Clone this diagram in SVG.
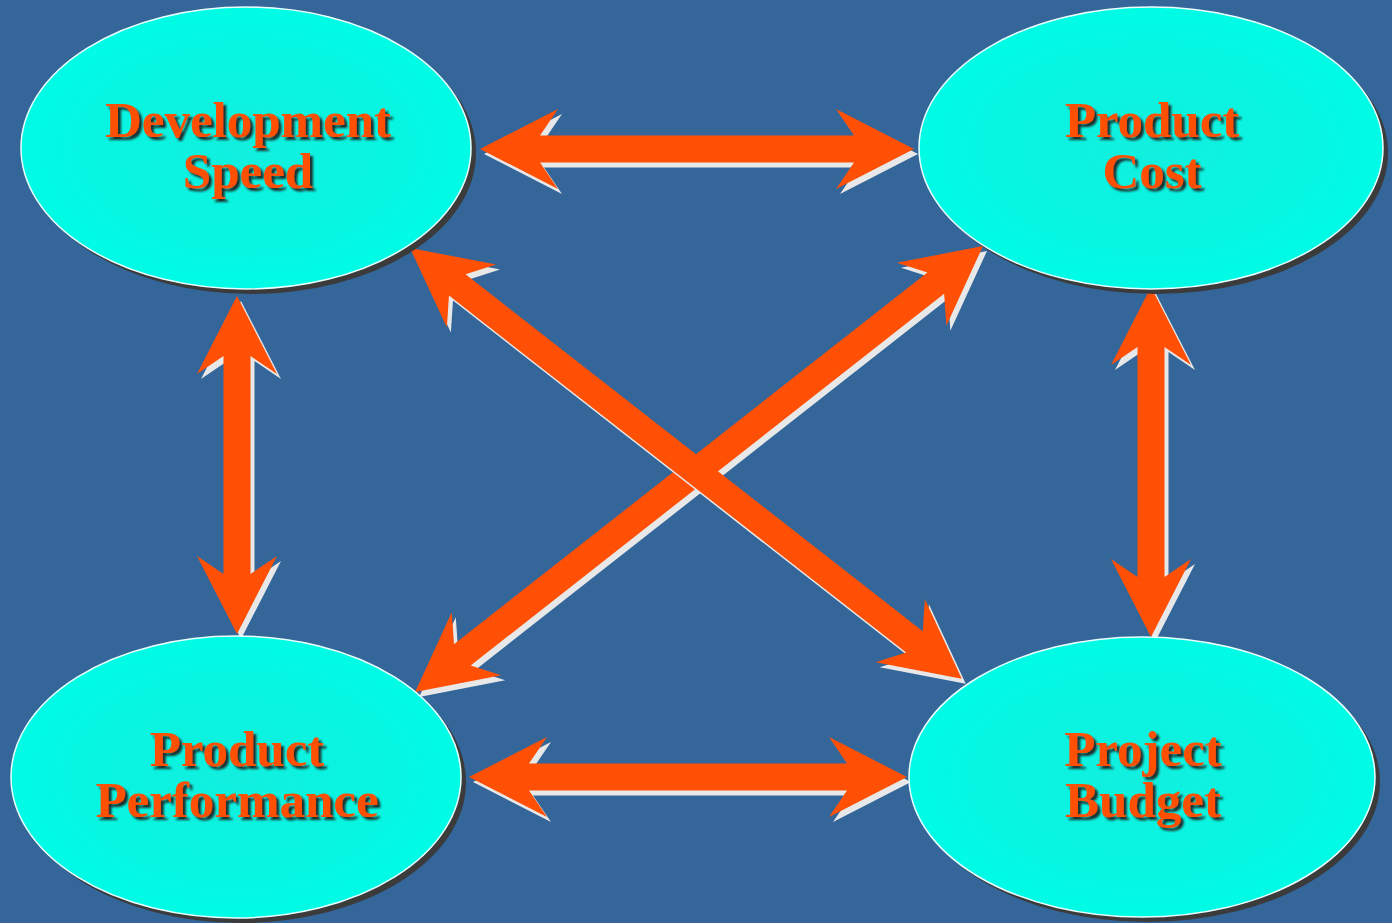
<svg xmlns="http://www.w3.org/2000/svg" width="1392" height="923" viewBox="0 0 1392 923">
  <defs>
    <radialGradient id="nodeFill" cx="0.5" cy="0.5" r="0.5">
      <stop offset="0" stop-color="#12efdf"/>
      <stop offset="0.7" stop-color="#06f6e2"/>
      <stop offset="1" stop-color="#00fce6"/>
    </radialGradient>
    <filter id="textShadow" x="-10%" y="-30%" width="130%" height="170%">
      <feGaussianBlur in="SourceAlpha" stdDeviation="0.9" result="blur"/>
      <feOffset in="blur" dx="3" dy="3" result="off"/>
      <feFlood flood-color="#1c1c1c" flood-opacity="0.9"/>
      <feComposite in2="off" operator="in" result="shadow"/>
      <feMerge>
        <feMergeNode in="shadow"/>
        <feMergeNode in="SourceGraphic"/>
      </feMerge>
    </filter>
  </defs>
  <style>
    .bg { fill: #346699; }
    .node-shadow { fill: #3b3b3b; }
    .node-body { fill: url(#nodeFill); stroke: #e9ffff; stroke-width: 1.5; }
    .label { font-family: "Liberation Serif", "Times New Roman", serif; font-weight: bold; font-size: 51px; fill: #ff5005; text-anchor: middle; filter: url(#textShadow); }
    .arrow { fill: #ff5005; }
    .arrow-shadow { fill: #e8e8e8; }
  </style>

  <rect class="bg" x="0" y="0" width="1392" height="923"/>

  <!-- connectors: double-headed arrows, each with a light drop shadow -->
  <g id="connectors">
    <g id="speed-cost">
      <path class="arrow-shadow" transform="translate(484,154)" d="M0,0 L78,-40 L60,-13.5 H374 L356,-40 L434,0 L356,40 L374,13.5 H60 L78,40 Z"/>
      <path class="arrow" transform="translate(480,149)" d="M0,0 L78,-40 L60,-13.5 H374 L356,-40 L434,0 L356,40 L374,13.5 H60 L78,40 Z"/>
    </g>
    <g id="performance-budget">
      <path class="arrow-shadow" transform="translate(473,782)" d="M0,0 L78,-40 L60,-13.5 H378 L360,-40 L438,0 L360,40 L378,13.5 H60 L78,40 Z"/>
      <path class="arrow" transform="translate(469,777)" d="M0,0 L78,-40 L60,-13.5 H378 L360,-40 L438,0 L360,40 L378,13.5 H60 L78,40 Z"/>
    </g>
    <g id="speed-performance">
      <path class="arrow-shadow" transform="translate(241,301) rotate(90)" d="M0,0 L78,-40 L60,-13.5 H278 L260,-40 L338,0 L260,40 L278,13.5 H60 L78,40 Z"/>
      <path class="arrow" transform="translate(237,296) rotate(90)" d="M0,0 L78,-40 L60,-13.5 H278 L260,-40 L338,0 L260,40 L278,13.5 H60 L78,40 Z"/>
    </g>
    <g id="cost-budget">
      <path class="arrow-shadow" transform="translate(1155,292) rotate(90)" d="M0,0 L78,-40 L60,-13.5 H290 L272,-40 L350,0 L272,40 L290,13.5 H60 L78,40 Z"/>
      <path class="arrow" transform="translate(1151,287) rotate(90)" d="M0,0 L78,-40 L60,-13.5 H290 L272,-40 L350,0 L272,40 L290,13.5 H60 L78,40 Z"/>
    </g>
    <g id="cost-performance">
      <path class="arrow-shadow" transform="translate(987,251) rotate(141.86)" d="M0,0 L78,-40 L60,-13.5 H662 L644,-40 L722,0 L644,40 L662,13.5 H60 L78,40 Z"/>
      <path class="arrow" transform="translate(983,246) rotate(141.86)" d="M0,0 L78,-40 L60,-13.5 H662 L644,-40 L722,0 L644,40 L662,13.5 H60 L78,40 Z"/>
    </g>
    <g id="speed-budget">
      <path class="arrow-shadow" transform="translate(414,253) rotate(37.98)" d="M0,0 L78,-40 L60,-13.5 H640 L622,-40 L700,0 L622,40 L640,13.5 H60 L78,40 Z"/>
      <path class="arrow" transform="translate(410,248) rotate(37.98)" d="M0,0 L78,-40 L60,-13.5 H640 L622,-40 L700,0 L622,40 L640,13.5 H60 L78,40 Z"/>
    </g>
  </g>

  <!-- nodes -->
  <g id="development-speed">
    <ellipse class="node-shadow" cx="251" cy="153" rx="225" ry="141"/>
    <ellipse class="node-body" cx="246" cy="148" rx="225" ry="141"/>
    <text class="label" x="248" y="137">Development</text>
    <text class="label" x="248" y="188">Speed</text>
  </g>
  <g id="product-cost">
    <ellipse class="node-shadow" cx="1156" cy="153" rx="232" ry="141"/>
    <ellipse class="node-body" cx="1151" cy="148" rx="232" ry="141"/>
    <text class="label" x="1152" y="137">Product</text>
    <text class="label" x="1152" y="188">Cost</text>
  </g>
  <g id="product-performance">
    <ellipse class="node-shadow" cx="241" cy="782" rx="225" ry="141"/>
    <ellipse class="node-body" cx="236" cy="777" rx="225" ry="141"/>
    <text class="label" x="237" y="766">Product</text>
    <text class="label" x="237" y="817">Performance</text>
  </g>
  <g id="project-budget">
    <ellipse class="node-shadow" cx="1147" cy="782" rx="233" ry="140"/>
    <ellipse class="node-body" cx="1142" cy="777" rx="233" ry="140"/>
    <text class="label" x="1143" y="766">Project</text>
    <text class="label" x="1143" y="817">Budget</text>
  </g>
</svg>
